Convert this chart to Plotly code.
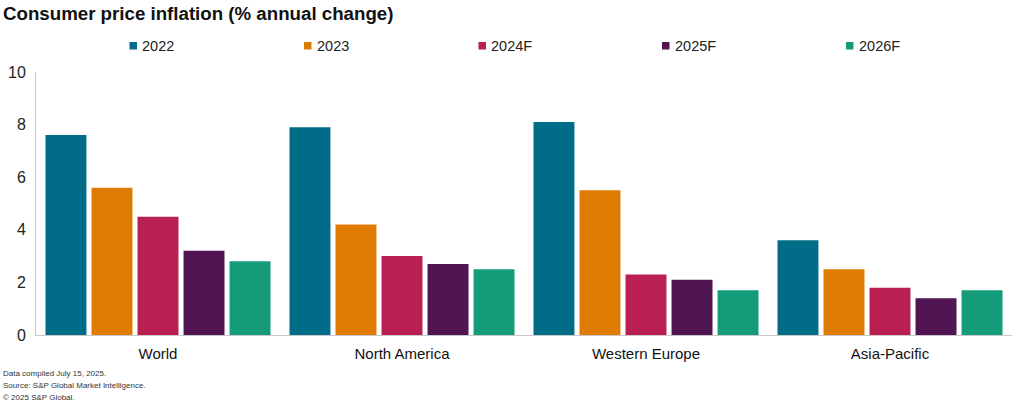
import plotly.graph_objects as go

regions = ["World", "North America", "Western Europe", "Asia-Pacific"]
series_names = ["2022", "2023", "2024F", "2025F", "2026F"]
v2022 = [7.6, 7.9, 8.1, 3.6]
v2023 = [5.6, 4.2, 5.5, 2.5]
v2024 = [4.5, 3.0, 2.3, 1.8]
v2025 = [3.2, 2.7, 2.1, 1.4]
v2026 = [2.8, 2.5, 1.7, 1.7]
series_values = [v2022, v2023, v2024, v2025, v2026]
colors = ["#006c87", "#de7b00", "#b91f50", "#4f1451", "#149c7a"]
y_ticks = [0, 2, 4, 6, 8, 10]
footnotes = ["Data compiled July 15, 2025.", "Source: S&P Global Market Intelligence.", "© 2025 S&P Global."]

FONT = "Liberation Sans, Arial, sans-serif"
L, R, T, B = 36, 12, 72, 67
W, H = 1024, 402
PW, PH = W - L - R, H - T - B

def px_x(x):
    return (x - L) / PW

def px_y(y):
    return (H - B - y) / PH

fig = go.Figure()
for name, vals, col in zip(series_names, series_values, colors):
    fig.add_trace(go.Bar(x=regions, y=vals, name=name, marker=dict(color=col, line=dict(width=0))))

fig.update_layout(
    width=W, height=H,
    margin=dict(l=L, r=R, t=T, b=B, autoexpand=False),
    paper_bgcolor="white", plot_bgcolor="white",
    barmode="group", bargap=0.057, bargroupgap=0.11,
    font=dict(family=FONT, color="#222222"),
    showlegend=False,
)

# legend drawn as colored squares + labels
legend_left = [129.5, 304, 478.5, 662, 846]
for name, col, lx in zip(series_names, colors, legend_left):
    fig.add_shape(type="rect", xref="paper", yref="paper", x0=px_x(lx), x1=px_x(lx + 7.5),
                  y0=px_y(49.5), y1=px_y(42), fillcolor=col, line=dict(width=0))
    fig.add_annotation(text=name, xref="paper", yref="paper", x=px_x(lx + 10.5), xanchor="left",
                       y=px_y(46), yanchor="middle", showarrow=False,
                       font=dict(size=14.5, color="#222222", family=FONT))

fig.add_annotation(text="<b>Consumer price inflation (% annual change)</b>", xref="paper", yref="paper",
                   x=px_x(1), xanchor="left", y=px_y(14), yanchor="middle", showarrow=False,
                   font=dict(size=18.7, color="#111111", family=FONT))
fig.update_xaxes(showline=True, linecolor="#c8c8c8", linewidth=1, ticks="", showgrid=False,
                 tickfont=dict(size=15, color="#111111"), automargin=False, ticklabelstandoff=5)
fig.update_yaxes(range=[0, 10], tickvals=y_ticks, showline=True, linecolor="#c8c8c8", linewidth=1,
                 showgrid=False, zeroline=False, ticks="", tickfont=dict(size=16, color="#222222"),
                 ticklabelstandoff=6, automargin=False)

for i, t in enumerate(footnotes):
    fig.add_annotation(text=t, xref="paper", yref="paper", x=px_x(1), xanchor="left",
                       y=px_y(373 + i * 12), yanchor="middle",
                       showarrow=False, font=dict(size=8, color="#333333", family=FONT), align="left")

fig.write_html("out.html", config={"displayModeBar": False},
               post_script="document.body.style.margin='0';document.body.style.overflow='hidden';")
